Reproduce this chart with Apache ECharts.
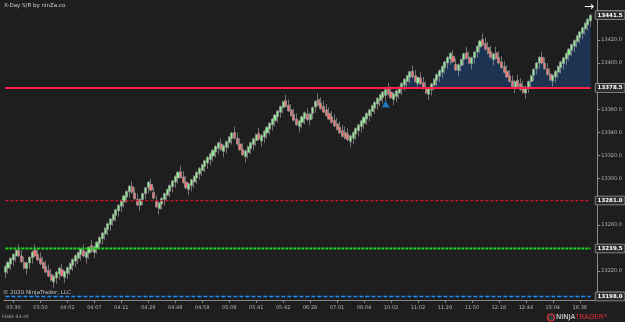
<!DOCTYPE html>
<html>
<head>
<meta charset="utf-8">
<script src="https://cdn.jsdelivr.net/npm/echarts@6/dist/echarts.min.js"></script>
<style>
  html, body { margin: 0; padding: 0; background: #1e1e1e; }
  #main { width: 625px; height: 322px; }
</style>
</head>
<body>
<div id="main"></div>
<script>
// renko closes, one per bar
var closes = [
  13224, 13227.5, 13231, 13234.5, 13238, 13233, 13228, 13222.5, 13227, 13232,
  13236.5, 13233, 13229.5, 13226, 13222.5, 13219, 13215.5, 13212, 13215.5, 13219,
  13222.5, 13216, 13219.5, 13223, 13226.5, 13230, 13233.5, 13236, 13239, 13233,
  13236.5, 13240.5, 13237, 13241, 13245, 13249, 13253, 13257, 13261, 13265,
  13269, 13273, 13277, 13281, 13285, 13289, 13293.5, 13288, 13282.5, 13277,
  13282, 13287, 13292, 13297, 13290, 13283, 13275.5, 13279, 13283, 13287,
  13290.5, 13294, 13298, 13302, 13305.5, 13301, 13296.5, 13292, 13295.5, 13299,
  13302, 13305.5, 13309, 13312, 13315.5, 13318.5, 13321.5, 13324.5, 13328, 13331,
  13325, 13328.5, 13332, 13336, 13339.5, 13335, 13330, 13325, 13320.5, 13324,
  13327.5, 13331, 13334.5, 13338, 13334, 13337.5, 13341, 13344.5, 13348, 13351.5,
  13355, 13358.5, 13362.5, 13366.5, 13362.5, 13358.5, 13354.5, 13350.5, 13346.5, 13350,
  13353.5, 13357, 13351, 13356, 13361.5, 13367, 13363.5, 13360.5, 13357.5, 13354.5,
  13351.5, 13348.5, 13345.5, 13342.5, 13339.5, 13336.5, 13335, 13333.5, 13337, 13340,
  13343.5, 13346.5, 13350, 13353, 13356.5, 13359.5, 13363, 13366, 13369.5, 13372.5,
  13375, 13377, 13373, 13370, 13373.5, 13376, 13379, 13382.5, 13386, 13389,
  13392.5, 13388, 13384, 13387.5, 13382, 13378, 13374, 13378, 13382, 13386,
  13390, 13393.5, 13397, 13401, 13405, 13408.5, 13401, 13394, 13398.5, 13403,
  13408, 13404, 13400, 13404.5, 13409.5, 13414.5, 13419, 13415.5, 13412, 13408.5,
  13405, 13408, 13404, 13400, 13396, 13392, 13388, 13384, 13379.5, 13384,
  13380, 13377, 13374.5, 13379, 13384, 13389, 13394.5, 13400, 13405, 13400,
  13395, 13390, 13385.5, 13389.5, 13393, 13397, 13401, 13404.5, 13408.5, 13412,
  13416, 13419.5, 13423.5, 13427, 13430.5, 13434.5, 13438, 13441.5
];
var timeLabels = ['03:30', '03:50', '04:02', '04:07', '04:11', '04:29', '04:48', '04:58',
  '05:08', '05:41', '05:42', '06:28', '07:01', '08:04', '10:02', '11:02', '11:29',
  '11:50', '12:18', '12:44', '15:04', '16:38'];
var yTicks = [13220, 13260, 13300, 13320, 13340, 13360, 13400, 13420];
var resistance = 13378.5;
var midLevel = 13281.0;
var support = 13239.5;
var lowLevel = 13198.0;
var lastPrice = 13441.5;
var signalBars = [141];
var signalPrices = [13364.5];

var barCount = 220;   // slots on the x axis
var labelStart = 3;   // first labelled bar
var labelEvery = 10;
var brick = 5;        // body height of a renko brick

var cats = [];
for (var i = 0; i < barCount; i++) cats.push(i);

var candles = closes.map(function (c, i) {
  var up = i === 0 || c > closes[i - 1];
  return up ? [c - brick, c, c - 2 * brick, c + 1] : [c + brick, c, c - 1, c + 2 * brick];
});
var fillVals = closes.map(function (c) { return c > resistance ? c : resistance; });

function levelLine(v) {
  return closes.map(function () { return v; });
}
var tagLabel = {
  show: true,
  distance: 5,
  formatter: function (p) { return p.value.toFixed(1); },
  color: '#ffffff',
  fontSize: 5.5,
  fontWeight: 'bold',
  fontFamily: 'DejaVu Sans',
  backgroundColor: '#2e2e2e',
  borderColor: '#9a9a9a',
  borderWidth: 0.8,
  borderRadius: 1,
  padding: [1, 2, 1, 2]
};
function levelSeries(v, color, width, type) {
  return {
    type: 'line',
    data: levelLine(v),
    symbol: 'none',
    silent: true,
    z: 4,
    lineStyle: { color: color, width: width, type: type },
    endLabel: tagLabel
  };
}

var chart = echarts.init(document.getElementById('main'));
var showLabel = function (i) {
  return i >= labelStart && (i - labelStart) % labelEvery === 0 &&
    (i - labelStart) / labelEvery < timeLabels.length;
};

var option = {
  backgroundColor: '#1e1e1e',
  animation: false,
  grid: { left: 4, right: 25, top: 0, bottom: 22 },
  xAxis: {
    type: 'category',
    data: cats,
    boundaryGap: true,
    axisLine: { lineStyle: { color: '#8a8a8a', width: 1 } },
    axisTick: { show: true, interval: showLabel, alignWithLabel: true, length: 3,
      lineStyle: { color: '#8a8a8a' } },
    axisLabel: {
      interval: showLabel,
      formatter: function (v, i) { return timeLabels[(i - labelStart) / labelEvery]; },
      color: '#b5b5b5', fontSize: 5, fontFamily: 'DejaVu Sans', margin: 5
    },
    splitLine: { show: false }
  },
  yAxis: {
    type: 'value',
    position: 'right',
    min: 13194.9,
    max: 13454.6,
    axisLine: { show: true, lineStyle: { color: '#8a8a8a', width: 1 } },
    axisTick: { show: true, customValues: yTicks, length: 3, lineStyle: { color: '#8a8a8a' } },
    axisLabel: {
      customValues: yTicks,
      formatter: function (v) { return v.toFixed(1); },
      color: '#b5b5b5', fontSize: 5, fontFamily: 'DejaVu Sans', margin: 4
    },
    splitLine: { show: false }
  },
  series: [
    {
      type: 'line',
      data: fillVals,
      symbol: 'none',
      silent: true,
      z: 1,
      lineStyle: { width: 0, opacity: 0 },
      areaStyle: { color: '#1c3452', opacity: 1, origin: resistance }
    },
    {
      type: 'candlestick',
      data: candles,
      barWidth: 2.6,
      z: 3,
      itemStyle: {
        color: '#8ef08e',
        color0: '#f47676',
        borderColor: '#989898',
        borderColor0: '#989898',
        borderWidth: 0.7
      }
    },
    levelSeries(resistance, '#ff1f47', 2, 'solid'),
    levelSeries(midLevel, '#d0122e', 1.2, [3, 2]),
    levelSeries(support, '#1fd41f', 2, [3, 1]),
    levelSeries(lowLevel, '#1e8fff', 1.5, [4, 2]),
    {
      type: 'line',
      data: closes.map(function (c, i) { return i === closes.length - 1 ? lastPrice : null; }),
      symbol: 'none',
      lineStyle: { opacity: 0 },
      endLabel: tagLabel,
      z: 5
    },
    {
      type: 'scatter',
      data: signalBars.map(function (b, k) { return [b, signalPrices[k]]; }),
      symbol: 'triangle',
      symbolSize: [8, 7],
      itemStyle: { color: '#1e88e5' },
      z: 6
    }
  ],
  graphic: [
    { type: 'text', left: 4, top: 3, style: { text: 'X-Day S/R by ninZa.co', fill: '#cfcfcf',
      fontSize: 5.5, fontFamily: 'DejaVu Sans' } },
    { type: 'text', left: 584, top: 1, style: { text: '\u2192', fill: '#ffffff',
      fontSize: 12, fontFamily: 'DejaVu Sans' } },
    { type: 'text', left: 3, top: 290, style: { text: '\u00a9 2020 NinjaTrader, LLC', fill: '#c0c0c0',
      fontSize: 5.5, fontFamily: 'DejaVu Sans' } },
    { type: 'text', left: 2, top: 314, style: { text: 'FDAX 03-20', fill: '#b0b0b0',
      fontSize: 4.5, fontFamily: 'DejaVu Sans' } },
    { type: 'circle', shape: { cx: 551, cy: 317.5, r: 3.5 }, style: { fill: '#3a3a3a', stroke: '#e0303a', lineWidth: 1.2 } },
    { type: 'text', left: 556, top: 313.5, style: {
      text: '{a|NINJA}{b|TRADER}{c|\u00ae}',
      rich: {
        a: { fill: '#e8e8e8', fontSize: 7, fontFamily: 'DejaVu Sans' },
        b: { fill: '#e0303a', fontSize: 7, fontFamily: 'DejaVu Sans' },
        c: { fill: '#e0303a', fontSize: 4, fontFamily: 'DejaVu Sans', verticalAlign: 'top' }
      }
    } }
  ]
};
chart.setOption(option);
</script>
</body>
</html>
